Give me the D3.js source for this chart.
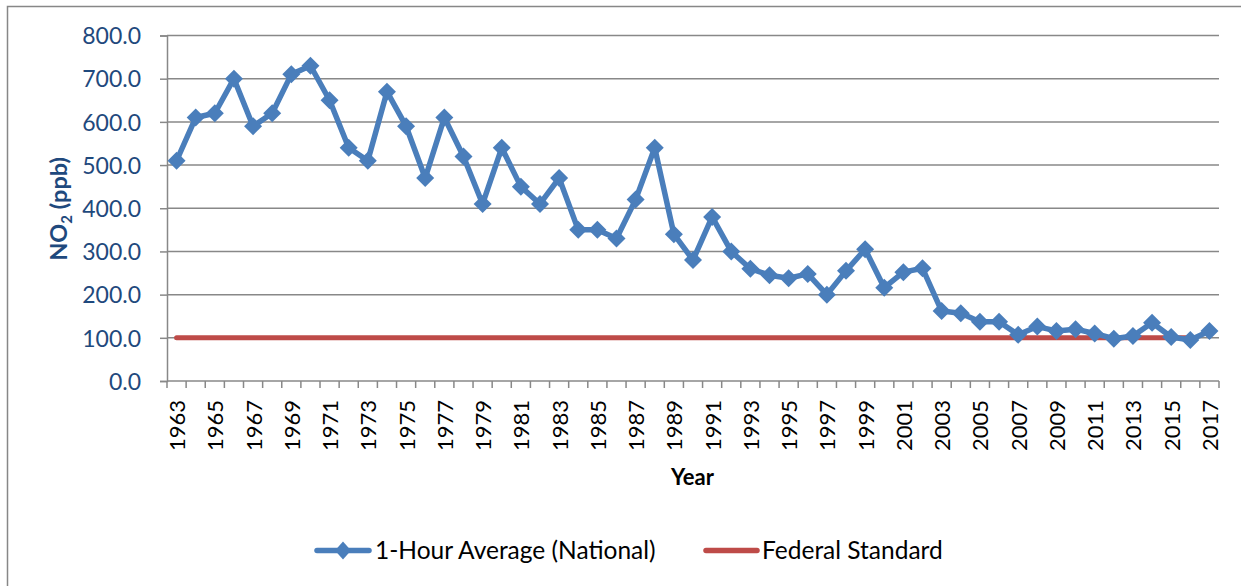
<!DOCTYPE html>
<html>
<head>
<meta charset="utf-8">
<script src="https://cdn.jsdelivr.net/npm/d3@7"></script>
<style>
  html, body { margin: 0; padding: 0; background: #fff; }
  svg { display: block; }
</style>
</head>
<body>
<svg id="chart" width="1241" height="586"></svg>
<script>
const years = d3.range(1963, 2018).map(String);
const hourlyAverage = [510, 610, 620, 700, 590, 620, 710, 730, 650, 540,
  510, 670, 590, 470, 610, 520, 410, 540, 450, 410,
  470, 350, 350, 330, 420, 540, 340, 280, 380, 300,
  260, 245, 238, 248, 200, 255, 305, 216, 252, 261,
  162, 157, 137, 137, 107, 126, 116, 120, 110, 98,
  104, 135, 102, 95, 116];
const standardYears = d3.range(1963, 2017).map(String);
const federalStandard = standardYears.map(() => 100);
const yTicks = [0, 100, 200, 300, 400, 500, 600, 700, 800];
const xTickLabels = years.filter((y, i) => i % 2 === 0);
const seriesNames = ["1-Hour Average (National)", "Federal Standard"];

(function draw() {
const svg = d3.select("#chart");
const font = "Lato, 'Open Sans', sans-serif";
const blue = "#4A7EBB", red = "#BE4B48", grid = "#888888", axisBlue = "#1F497D";

const pL = 167, pR = 1219, pT = 35.5, pB = 381;

// outer chart border (only left and top visible in the crop)
svg.append("rect").attr("x", 7.5).attr("y", 6.5).attr("width", 1300).attr("height", 700)
  .attr("fill", "none").attr("stroke", "#878787").attr("stroke-width", 1.5);

const x = d3.scaleBand().domain(years).range([pL, pR]).padding(0);
const y = d3.scaleLinear().domain([0, 800]).range([pB, pT]);

// gridlines
svg.append("g").selectAll("line").data(yTicks.filter(d => d > 0)).join("line")
  .attr("x1", pL).attr("x2", pR)
  .attr("y1", d => y(d)).attr("y2", d => y(d))
  .attr("stroke", grid).attr("stroke-width", 1.5);

// y axis
const yAxis = svg.append("g").attr("transform", `translate(${pL},0)`)
  .call(d3.axisLeft(y).tickValues(yTicks).tickFormat(d3.format(".1f")).tickSize(7).tickPadding(19));
yAxis.select(".domain").attr("stroke", grid).attr("stroke-width", 1.5);
yAxis.selectAll(".tick line").attr("stroke", grid).attr("stroke-width", 1.5);
yAxis.selectAll(".tick text").attr("fill", axisBlue).attr("font-family", font)
  .attr("font-size", 23).attr("dy", "0.36em");

// x axis: ticks at band boundaries
const xAxisG = svg.append("g");
const boundaries = years.map(d => x(d)).concat([pR]);
xAxisG.append("line").attr("x1", pL).attr("x2", pR).attr("y1", pB).attr("y2", pB)
  .attr("stroke", grid).attr("stroke-width", 1.5);
xAxisG.selectAll("line.tk").data(boundaries).join("line").attr("class", "tk")
  .attr("x1", d => d).attr("x2", d => d).attr("y1", pB).attr("y2", pB + 7)
  .attr("stroke", grid).attr("stroke-width", 1.5);
xAxisG.selectAll("text").data(xTickLabels).join("text")
  .attr("transform", d => `translate(${x(d) + x.bandwidth() / 2 + 8.5},${pB + 19}) rotate(-90)`)
  .attr("text-anchor", "end").attr("font-family", font).attr("font-size", 22)
  .attr("fill", "#000").text(d => d);

// axis titles
svg.append("text").attr("x", 692.5).attr("y", 485).attr("text-anchor", "middle")
  .attr("font-family", font).attr("font-size", 22).attr("font-weight", "bold").attr("fill", "#000")
  .text("Year");
const yt = svg.append("text").attr("transform", "translate(67,209) rotate(-90)")
  .attr("text-anchor", "middle").attr("font-family", font).attr("font-size", 23.5)
  .attr("font-weight", "bold").attr("fill", axisBlue);
yt.append("tspan").text("NO");
yt.append("tspan").attr("font-size", 15).attr("dy", 5).text("2");
yt.append("tspan").attr("dy", -5).text(" (ppb)");

const cx = d => x(d) + x.bandwidth() / 2;

// federal standard line
svg.append("path").datum(standardYears.map((yr, i) => [yr, federalStandard[i]]))
  .attr("fill", "none").attr("stroke", red).attr("stroke-width", 5).attr("stroke-linecap", "round")
  .attr("d", d3.line().x(d => cx(d[0])).y(d => y(d[1])));

// average line
const avgData = years.map((yr, i) => [yr, hourlyAverage[i]]);
svg.append("path").datum(avgData)
  .attr("fill", "none").attr("stroke", blue).attr("stroke-width", 5.5).attr("stroke-linejoin", "round")
  .attr("d", d3.line().x(d => cx(d[0])).y(d => y(d[1])));

const diamond = (w, h) => `M0,${-h}L${w},0L0,${h}L${-w},0Z`;
svg.append("g").selectAll("path").data(avgData).join("path")
  .attr("transform", d => `translate(${cx(d[0])},${y(d[1])})`)
  .attr("d", diamond(9, 9)).attr("fill", blue);

// legend
const lg = svg.append("g");
const ly = 550.5;
lg.append("line").attr("x1", 317).attr("x2", 369).attr("y1", ly).attr("y2", ly)
  .attr("stroke", blue).attr("stroke-width", 5.5).attr("stroke-linecap", "round");
lg.append("path").attr("transform", `translate(343,${ly})`).attr("d", diamond(8, 9)).attr("fill", blue);
lg.append("text").attr("x", 375).attr("y", ly).attr("dy", "0.36em").attr("font-family", font)
  .attr("font-size", 24.5).attr("fill", "#000").text(seriesNames[0]);
lg.append("line").attr("x1", 706).attr("x2", 757).attr("y1", ly).attr("y2", ly)
  .attr("stroke", red).attr("stroke-width", 5.5).attr("stroke-linecap", "round");
lg.append("text").attr("x", 762).attr("y", ly).attr("dy", "0.36em").attr("font-family", font)
  .attr("font-size", 24.5).attr("fill", "#000").text(seriesNames[1]);
})();
</script>
</body>
</html>
